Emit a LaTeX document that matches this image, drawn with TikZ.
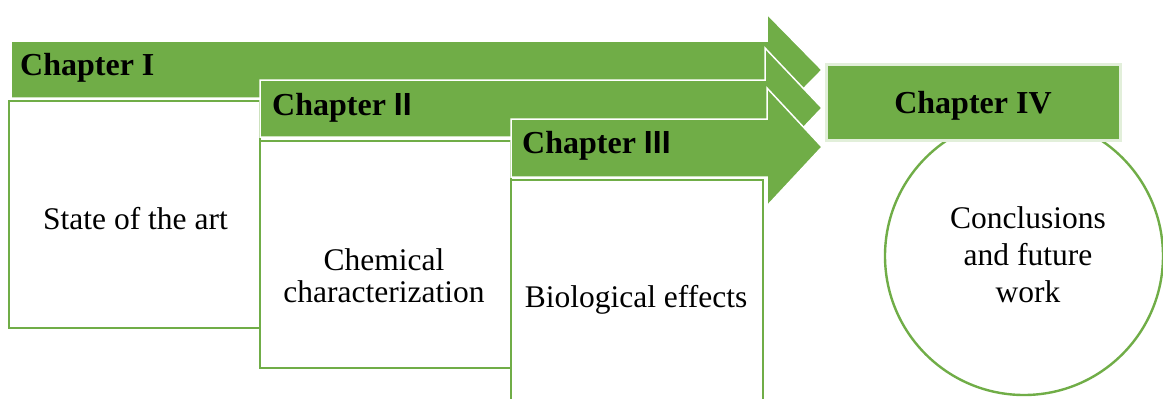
\documentclass[tikz,border=0pt]{standalone}
\usepackage{fontspec}
\setmainfont{Liberation Serif}
\newfontfamily\arialfont{Liberation Sans}
\definecolor{ogreen}{HTML}{70AD47}
\definecolor{lgreen}{HTML}{E2EFDA}
\begin{document}
\begin{tikzpicture}[x=1pt,y=-1pt,
  arrowshape/.style={fill=ogreen,draw=white,line width=1.5pt,line join=miter},
  textbox/.style={fill=white,draw=ogreen,line width=2.4pt},
  headtext/.style={font=\fontsize{32}{36}\selectfont\bfseries,inner sep=0pt},
  bodytext/.style={font=\fontsize{31.5}{34}\selectfont,align=center,inner sep=0pt}]
\useasboundingbox (0,0) rectangle (1163,399);
\clip (0,0) rectangle (1163,399);
\fill[white] (0,0) rectangle (1163,399);
% Chapter I
\draw[arrowshape] (11,41) -- (767,41) -- (767,14) -- (822,70) -- (767,126) -- (767,98) -- (11,98) -- cycle;
\draw[textbox] (9,101) rectangle (260,328);
% Chapter II
\draw[arrowshape] (260,80) -- (765,80) -- (765,48) -- (822,108) -- (765,168) -- (765,137) -- (260,137) -- cycle;
\draw[textbox] (260,141) rectangle (511,368);
% Chapter III
\draw[arrowshape] (511,119) -- (767,119) -- (767,88) -- (822,147) -- (767,206) -- (767,177) -- (511,177) -- cycle;
\draw[textbox] (511,180) rectangle (763,430);
% Chapter IV
\draw[ogreen,line width=2.4pt] (1024,256) circle (139);
\draw[fill=ogreen,draw=lgreen,line width=3pt] (826,64) rectangle (1120,140);
% texts
\node[headtext,anchor=base west] (h1) at (20,75) {Chapter I};
\node[headtext,anchor=base west] (h2) at (272,115) {Chapter {\arialfont II}};
\node[headtext,anchor=base west] (h3) at (522,153) {Chapter {\arialfont III}};
\node[headtext,anchor=base] (h4) at (973,113) {Chapter IV};
\node[bodytext,anchor=base] (b1) at (135.5,229) {State of the art};
\node[bodytext,anchor=center,font=\fontsize{31.5}{32}\selectfont] (b2) at (384,275.5) {Chemical\\characterization};
\node[bodytext,anchor=base] (b3) at (636,307) {Biological effects};
\node[bodytext,anchor=center,font=\fontsize{31.5}{37}\selectfont] (b4) at (1028,255) {Conclusions\\and future\\work};
\end{tikzpicture}
\end{document}
